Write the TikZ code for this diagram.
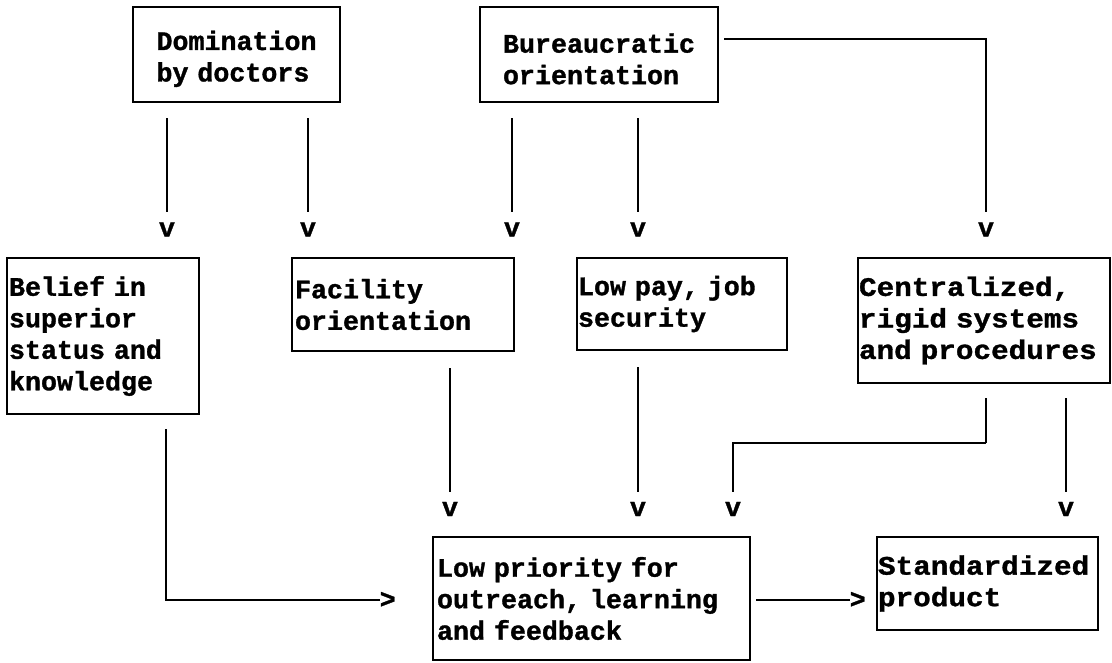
\documentclass[tikz,border=0pt]{standalone}
\usepackage{fontspec}
\newfontfamily\tw{Liberation Mono}[WordSpace={1,0,0},BoldFeatures={FakeBold=1.2}]
\newfontfamily\twx{Liberation Mono}[FakeStretch=1.1,WordSpace={1,0,0},BoldFeatures={FakeBold=1.2}]
\begin{document}
\begin{tikzpicture}[x=1pt,y=-1pt,
  txt/.style={font=\tw\bfseries\frenchspacing\fontsize{26.67}{31.5}\selectfont},
  txtw/.style={font=\twx\bfseries\frenchspacing\fontsize{26.67}{31.5}\selectfont},
  box/.style={draw,line width=2.2pt,inner ysep=0pt,align=left,txt},
  conn/.style={line width=2.2pt},
  head/.style={inner sep=0pt,txt}]
\useasboundingbox (0,0) rectangle (1112,662);

% boxes
\node[box,minimum width=207pt,minimum height=95pt,inner xsep=23.5pt,text width=160pt] (dom) at (236.5,54.5) {\rule{0pt}{28pt}Domination\\by doctors};
\node[box,minimum width=238pt,minimum height=95pt,inner xsep=23pt,text width=192pt] (bur) at (599,54.5) {\rule{0pt}{28pt}Bureaucratic\\orientation};
\node[box,minimum width=192pt,minimum height=156pt,inner xsep=2pt,text width=188pt] (bel) at (103,336) {Belief in\\superior\\status and\\knowledge};
\node[box,minimum width=222pt,minimum height=93pt,inner xsep=3pt,text width=216pt] (fac) at (403,304.5) {Facility\\orientation};
\node[box,minimum width=210pt,minimum height=92pt,inner xsep=1pt,text width=208pt] (pay) at (682,304) {Low pay, job\\security};
\node[box,txtw,minimum width=252pt,minimum height=125pt,inner xsep=1pt,text width=250pt] (cen) at (984,320.5) {Centralized,\\rigid systems\\and procedures};
\node[box,minimum width=317pt,minimum height=123pt,inner xsep=4pt,text width=309pt] (pri) at (591.5,598.5) {Low priority for\\outreach, learning\\and feedback};
\node[box,txtw,minimum width=221pt,minimum height=93pt,inner xsep=1pt,text width=219pt] (std) at (987.5,583.5) {Standardized\\product};

% arrowheads (typed glyphs)
\node[head] (va1) at (167,229.5) {v};
\node[head] (va2) at (308,229.5) {v};
\node[head] (va3) at (512,229.5) {v};
\node[head] (va4) at (638,229.5) {v};
\node[head] (va5) at (986,229.5) {v};
\node[head] (vb1) at (450,509) {v};
\node[head] (vb2) at (638,509) {v};
\node[head] (vb3) at (733,509) {v};
\node[head] (vb4) at (1066,509) {v};
\node[head,anchor=east] (gt1) at (396,600) {>};
\node[head,anchor=east] (gt2) at (866,600) {>};
\coordinate (bend) at (986,443);
\coordinate (belx) at (166,0);

% connectors
\draw[conn,shorten <=15pt,shorten >=10pt] (dom.south -| va1) -- (va1.north);
\draw[conn,shorten <=15pt,shorten >=10pt] (dom.south -| va2) -- (va2.north);
\draw[conn,shorten <=15pt,shorten >=10pt] (bur.south -| va3) -- (va3.north);
\draw[conn,shorten <=15pt,shorten >=10pt] (bur.south -| va4) -- (va4.north);
\draw[conn,shorten <=5pt,shorten >=10pt] ([yshift=15.5pt]bur.east) -| (va5.north);
\draw[conn,shorten <=14pt] (bel.south -| belx) |- (gt1.west);
\draw[conn,shorten <=16pt,shorten >=10pt] (fac.south -| vb1) -- (vb1.north);
\draw[conn,shorten <=16pt,shorten >=10pt] (pay.south -| vb2) -- (vb2.north);
\draw[conn,shorten <=14pt] (cen.south -| bend) -- (bend);
\draw[conn,shorten >=10pt] (bend) -| (vb3.north);
\draw[conn,shorten <=14pt,shorten >=10pt] (cen.south -| vb4) -- (vb4.north);
\draw[conn,shorten <=5pt] (pri.east |- gt2.west) -- (gt2.west);
\end{tikzpicture}
\end{document}
